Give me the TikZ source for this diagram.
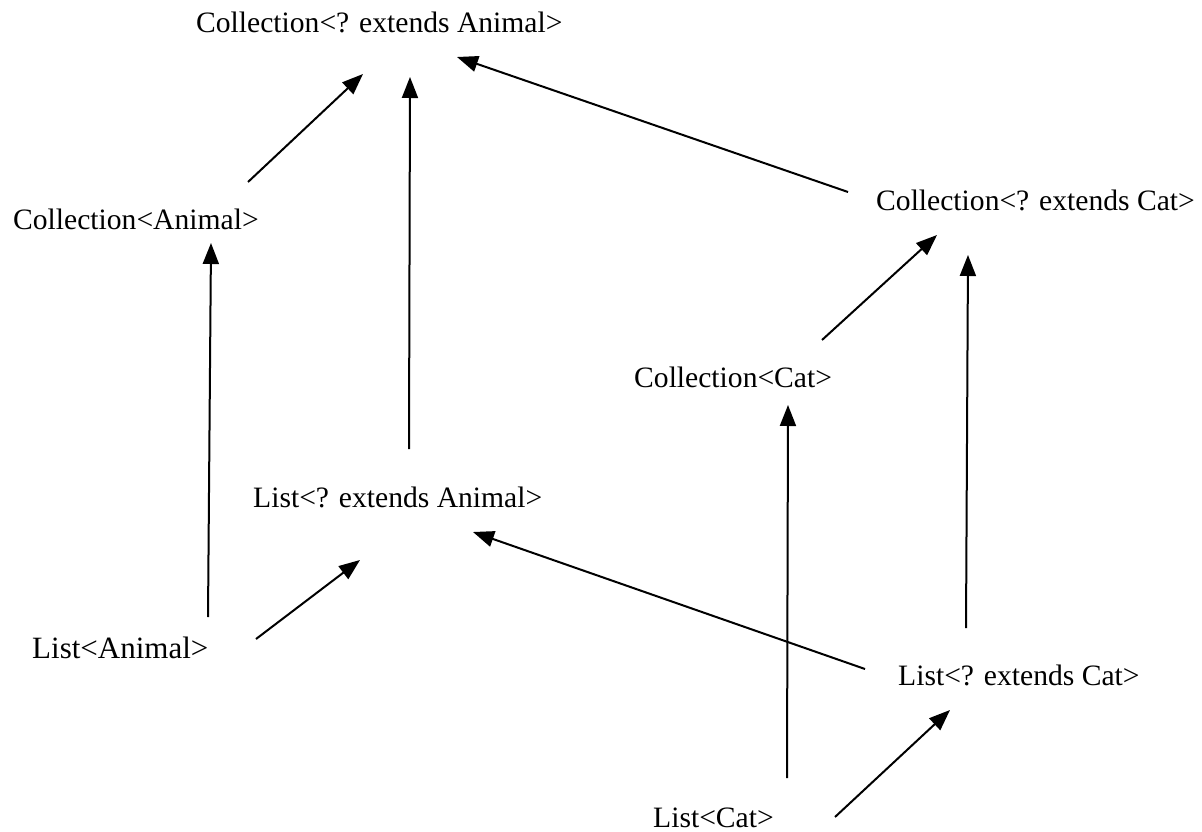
\documentclass[tikz,border=0pt]{standalone}
\usepackage{fontspec}
\setmainfont{Liberation Serif}
\usetikzlibrary{arrows.meta}
\begin{document}
\begin{tikzpicture}[x=1pt,y=-1pt,
  lbl/.style={anchor=base west,inner sep=0pt,font=\fontsize{29.6}{33}\selectfont},
  arr/.style={line width=2pt,-{Triangle[length=21pt,width=16pt]}}]
\path[use as bounding box,fill=white] (0,0) rectangle (1202,832);
\node[lbl] (cea) at (196,33) {Collection<? extends Animal>};
\node[lbl] (ca) at (13,229) {Collection<Animal>};
\node[lbl] (cec) at (876,210) {Collection<? extends Cat>};
\node[lbl] (cc) at (634,387) {Collection<Cat>};
\node[lbl] (lea) at (253,507) {List<? extends Animal>};
\node[lbl,font=\fontsize{31}{35}\selectfont] (la) at (32,658) {List<Animal>};
\node[lbl] (lec) at (898,685) {List<? extends Cat>};
\node[lbl] (lcat) at (653,827) {List<Cat>};
\draw[arr] ([shift={(235,-47)}]ca.base west) -- ([shift={(167,41)}]cea.base west);
\draw[arr] ([shift={(156,-58)}]lea.base west) -- ([shift={(214,44)}]cea.base west);
\draw[arr] ([shift={(-28,-18)}]cec.base west) -- ([shift={(261,24)}]cea.base west);
\draw[arr] ([shift={(176,-41)}]la.base west) -- ([shift={(198,14)}]ca.base west);
\draw[arr] ([shift={(224,-19)}]la.base west) -- ([shift={(107,53)}]lea.base west);
\draw[arr] ([shift={(-33,-16)}]lec.base west) -- ([shift={(220,25)}]lea.base west);
\draw[arr] ([shift={(188,-47)}]cc.base west) -- ([shift={(61,25)}]cec.base west);
\draw[arr] ([shift={(68,-57)}]lec.base west) -- ([shift={(92,45)}]cec.base west);
\draw[arr] ([shift={(134,-49)}]lcat.base west) -- ([shift={(154,18)}]cc.base west);
\draw[arr] ([shift={(182,-10)}]lcat.base west) -- ([shift={(52,25)}]lec.base west);
\end{tikzpicture}
\end{document}
